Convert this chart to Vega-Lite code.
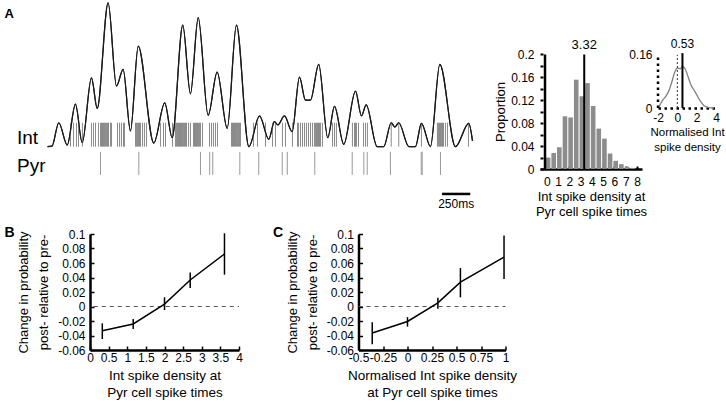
{
  "$schema": "https://vega.github.io/schema/vega-lite/v6.json",
  "padding": {"left": 4, "top": 0, "right": 4, "bottom": 2},
  "config": {
    "font": "Liberation Sans",
    "view": {"stroke": null},
    "axis": {"grid": false, "labelColor": "#000", "titleColor": "#000", "titleFontWeight": "normal", "domainColor": "#000", "tickColor": "#000", "labelOverlap": false, "tickCount": 100},
    "title": {"color": "#000", "fontWeight": "bold"}
  },
  "datasets": {
    "int": [{"t":204},{"t":231},{"t":257},{"t":275},{"t":310},{"t":390},{"t":408},{"t":426},{"t":452},{"t":470},{"t":479},{"t":488},{"t":497},{"t":506},{"t":514},{"t":523},{"t":532},{"t":541},{"t":559},{"t":568},{"t":621},{"t":639},{"t":656},{"t":674},{"t":683},{"t":781},{"t":789},{"t":798},{"t":807},{"t":816},{"t":825},{"t":843},{"t":860},{"t":878},{"t":1002},{"t":1029},{"t":1047},{"t":1109},{"t":1135},{"t":1144},{"t":1153},{"t":1162},{"t":1171},{"t":1180},{"t":1189},{"t":1197},{"t":1206},{"t":1215},{"t":1224},{"t":1233},{"t":1251},{"t":1268},{"t":1295},{"t":1304},{"t":1313},{"t":1322},{"t":1331},{"t":1339},{"t":1348},{"t":1357},{"t":1375},{"t":1437},{"t":1455},{"t":1472},{"t":1490},{"t":1508},{"t":1632},{"t":1641},{"t":1650},{"t":1659},{"t":1668},{"t":1676},{"t":1685},{"t":1694},{"t":1703},{"t":1712},{"t":1827},{"t":1863},{"t":1934},{"t":1996},{"t":2022},{"t":2084},{"t":2111},{"t":2173},{"t":2218},{"t":2226},{"t":2244},{"t":2262},{"t":2280},{"t":2297},{"t":2315},{"t":2333},{"t":2351},{"t":2368},{"t":2377},{"t":2386},{"t":2395},{"t":2404},{"t":2413},{"t":2422},{"t":2439},{"t":2528},{"t":2546},{"t":2563},{"t":2705},{"t":2723},{"t":2732},{"t":2741},{"t":2759},{"t":2803},{"t":2821},{"t":2838},{"t":3049},{"t":3116},{"t":3317},{"t":3459},{"t":3468},{"t":3477},{"t":3486},{"t":3495},{"t":3504},{"t":3513},{"t":3530},{"t":3548},{"t":3734}],
    "pyr": [{"t":470},{"t":810},{"t":1357},{"t":1439},{"t":1466},{"t":1706},{"t":1874},{"t":2082},{"t":2127},{"t":2371},{"t":2703},{"t":2806},{"t":2836},{"t":3042},{"t":3315},{"t":3324},{"t":3486}],
    "density": [{"t":0,"d":0},{"t":40,"d":0.03},{"t":100,"d":1.33},{"t":175,"d":0.09},{"t":248,"d":2.36},{"t":308,"d":0.22},{"t":390,"d":3.83},{"t":441,"d":2.13},{"t":538,"d":8.0},{"t":612,"d":3.37},{"t":671,"d":4.3},{"t":736,"d":0.87},{"t":805,"d":5.59},{"t":943,"d":0.2},{"t":1040,"d":2.44},{"t":1106,"d":0.5},{"t":1200,"d":6.76},{"t":1268,"d":2.94},{"t":1337,"d":7.17},{"t":1425,"d":1.74},{"t":1505,"d":4.15},{"t":1594,"d":1.02},{"t":1676,"d":6.76},{"t":1786,"d":0.0},{"t":1881,"d":1.71},{"t":1963,"d":0.41},{"t":2013,"d":1.39},{"t":2043,"d":1.21},{"t":2102,"d":1.71},{"t":2170,"d":0.83},{"t":2235,"d":3.87},{"t":2288,"d":2.59},{"t":2333,"d":2.59},{"t":2406,"d":4.58},{"t":2486,"d":0.5},{"t":2546,"d":2.24},{"t":2628,"d":0.13},{"t":2732,"d":3.09},{"t":2785,"d":1.71},{"t":2827,"d":2.32},{"t":2924,"d":0},{"t":2983,"d":0},{"t":3049,"d":1.33},{"t":3081,"d":1.09},{"t":3116,"d":1.33},{"t":3205,"d":0},{"t":3264,"d":0},{"t":3317,"d":1.3},{"t":3397,"d":0},{"t":3480,"d":4.58},{"t":3619,"d":0},{"t":3737,"d":1.3},{"t":3770,"d":0.32}],
    "hist": [{"bin":0,"p":0.02},{"bin":0.5,"p":0.028},{"bin":1,"p":0.038},{"bin":1.5,"p":0.092},{"bin":2,"p":0.09},{"bin":2.5,"p":0.156},{"bin":3,"p":0.127},{"bin":3.5,"p":0.15},{"bin":4,"p":0.11},{"bin":4.5,"p":0.0705},{"bin":5,"p":0.053},{"bin":5.5,"p":0.027},{"bin":6,"p":0.0143},{"bin":6.5,"p":0.0085},{"bin":7,"p":0.004},{"bin":7.5,"p":0.002}],
    "norm": [{"x":-1.9,"p":0.003},{"x":-1.6,"p":0.02},{"x":-1.2,"p":0.035},{"x":-0.9,"p":0.05},{"x":-0.6,"p":0.075},{"x":-0.3,"p":0.105},{"x":0,"p":0.12},{"x":0.3,"p":0.118},{"x":0.55,"p":0.125},{"x":0.8,"p":0.118},{"x":1.1,"p":0.095},{"x":1.4,"p":0.07},{"x":1.7,"p":0.055},{"x":2.0,"p":0.04},{"x":2.4,"p":0.02},{"x":2.8,"p":0.006},{"x":3.2,"p":0.002},{"x":3.8,"p":0}],
    "b": [{"x":0.33,"y":-0.0334,"lo":-0.0448,"hi":-0.0232},{"x":1.16,"y":-0.0241,"lo":-0.031,"hi":-0.0172},{"x":2.0,"y":0.0034,"lo":-0.0048,"hi":0.0127},{"x":2.69,"y":0.0366,"lo":0.0255,"hi":0.047},{"x":3.61,"y":0.0724,"lo":0.0439,"hi":0.101}],
    "c": [{"x":-0.36,"y":-0.0366,"lo":-0.052,"hi":-0.0217},{"x":0.0,"y":-0.0207,"lo":-0.0277,"hi":-0.0147},{"x":0.31,"y":0.005,"lo":-0.003,"hi":0.012},{"x":0.54,"y":0.0336,"lo":0.0126,"hi":0.053},{"x":0.985,"y":0.068,"lo":0.038,"hi":0.098}],
    "one": [{}]
  },
  "spacing": 8,
  "vconcat": [
    {
      "spacing": -21,
      "hconcat": [
        {
          "width": 382.5, "height": 205,
          "title": {"text": "A", "anchor": "start", "frame": "group", "dx": -85.5, "dy": 21, "offset": 0, "fontSize": 13},
          "layer": [
            {"data": {"name": "density"}, "mark": {"type": "line", "color": "#1a1a1a", "strokeWidth": 1.2, "interpolate": "monotone"},
             "encoding": {"x": {"field": "t", "type": "quantitative", "scale": {"domain": [0, 3770], "range": [-42.5, 382.5], "nice": false},
                                "axis": {"domain": false, "ticks": false, "labels": false, "title": null}},
                          "y": {"field": "d", "type": "quantitative", "scale": {"domain": [-3.3, 8.1], "nice": false},
                                "axis": {"values": [0.5, -1.05], "labelExpr": "datum.value > 0 ? 'Int' : 'Pyr'", "domain": false, "ticks": false, "title": null, "labelFontSize": 19, "labelAlign": "left", "labelBaseline": "middle", "labelPadding": 73.5}}}},
            {"data": {"name": "int"}, "mark": {"type": "rule", "color": "#8a8a8a", "strokeWidth": 1},
             "encoding": {"x": {"field": "t", "type": "quantitative"}, "y": {"datum": 0}, "y2": {"datum": 1.33}}},
            {"data": {"name": "pyr"}, "mark": {"type": "rule", "color": "#999999", "strokeWidth": 1},
             "encoding": {"x": {"field": "t", "type": "quantitative"}, "y": {"datum": -0.29}, "y2": {"datum": -1.57}}},
            {"data": {"name": "density"}, "mark": {"type": "line", "color": "#1a1a1a", "strokeWidth": 1.2, "interpolate": "monotone"},
             "encoding": {"x": {"field": "t", "type": "quantitative"}, "y": {"field": "d", "type": "quantitative"}}},
            {"data": {"name": "one"}, "mark": {"type": "rule", "color": "#000", "strokeWidth": 2.5},
             "encoding": {"x": {"datum": 3500}, "x2": {"datum": 3750}, "y": {"datum": -2.63}}},
            {"data": {"name": "one"}, "mark": {"type": "text", "fontSize": 12, "text": "250ms", "baseline": "middle"},
             "encoding": {"x": {"datum": 3625}, "y": {"datum": -3.2}}}
          ]
        },
        {
          "bounds": "flush",
          "spacing": 16,
          "hconcat": [
            {
              "width": 102, "height": 168,
              "layer": [
                {"data": {"name": "hist"}, "mark": {"type": "bar", "size": 4.6, "color": "#8c8c8c", "xOffset": 1.25},
                 "encoding": {
                   "x": {"field": "bin", "type": "quantitative", "scale": {"domain": [-0.16, 8], "nice": false, "zero": false},
                         "axis": {"values": [0,1,2,3,4,5,6,7,8], "tickCount": 100, "format": "d", "tickSize": -3, "tickWidth": 2, "domainWidth": 2.5, "labelFontSize": 12, "labelPadding": 10, "labelFlush": false, "labelOverlap": false,
                                  "title": ["Int spike density at", "Pyr cell spike times"], "titleFontSize": 13, "titleLineHeight": 15, "titlePadding": 3}},
                   "y": {"field": "p", "type": "quantitative", "scale": {"domain": [0, 0.2934], "nice": false},
                         "axis": {"values": [0,0.02,0.04,0.06,0.08,0.1,0.12,0.14,0.16,0.18,0.2], "tickCount": 100, "format": ".2~f", "labelExpr": "round(datum.value*100) % 4 == 0 ? datum.label : ''", "domain": false, "tickSize": -3, "tickWidth": 2, "labelFontSize": 12, "labelPadding": 9, "labelOverlap": false,
                                  "title": "Proportion", "titleFontSize": 13, "titleX": -40, "titleY": 110.5, "titleBaseline": "middle"}}}},
                {"data": {"name": "one"}, "mark": {"type": "rule", "color": "#000", "strokeWidth": 2.5},
                 "encoding": {"x": {"datum": -0.16}, "y": {"datum": 0}, "y2": {"datum": 0.2}}},
                {"data": {"values": [{"mean": 3.32}]}, "mark": {"type": "rule", "color": "#000", "strokeWidth": 2},
                 "encoding": {"x": {"field": "mean", "type": "quantitative"}, "y": {"datum": 0}, "y2": {"datum": 0.2}}},
                {"data": {"values": [{"mean": 3.32}]}, "mark": {"type": "text", "fontSize": 13, "baseline": "middle", "dy": -9},
                 "encoding": {"x": {"field": "mean", "type": "quantitative"}, "y": {"datum": 0.2}, "text": {"field": "mean", "type": "quantitative", "format": ".2f"}}}
              ]
            },
            {
              "width": 58, "height": 107,
              "layer": [
                {"data": {"name": "norm"}, "mark": {"type": "line", "color": "#808080", "strokeWidth": 1.3, "interpolate": "monotone"},
                 "encoding": {
                   "x": {"field": "x", "type": "quantitative", "scale": {"domain": [-2, 4], "nice": false},
                         "axis": {"values": [-2, 0, 2, 4], "tickCount": 100, "format": "~g", "labelExpr": "replace(datum.label, '\u2212', '-')", "ticks": false, "domainDash": [2.5, 3.5], "domainWidth": 2.5, "labelFontSize": 12, "labelPadding": 4, "labelFlush": false, "labelOverlap": false,
                                  "title": ["Normalised Int", "spike density"], "titleFontSize": 11.5, "titleLineHeight": 15, "titlePadding": 3}},
                   "y": {"field": "p", "type": "quantitative", "scale": {"domain": [0, 0.3218], "nice": false},
                         "axis": {"values": [0, 0.16], "tickCount": 100, "format": "~g", "ticks": false, "domain": false, "labelFontSize": 12, "labelPadding": 6, "labelOverlap": false, "title": null}}}},
                {"data": {"name": "one"}, "mark": {"type": "rule", "color": "#000", "strokeWidth": 2.5, "strokeDash": [2.5, 3.5]},
                 "encoding": {"x": {"datum": -2}, "y": {"datum": 0}, "y2": {"datum": 0.16}}},
                {"data": {"name": "one"}, "mark": {"type": "rule", "color": "#333", "strokeWidth": 1, "strokeDash": [2, 2]},
                 "encoding": {"x": {"datum": 0}, "y": {"datum": 0}, "y2": {"datum": 0.16}}},
                {"data": {"values": [{"mean": 0.53}]}, "mark": {"type": "rule", "color": "#000", "strokeWidth": 2},
                 "encoding": {"x": {"field": "mean", "type": "quantitative"}, "y": {"datum": 0}, "y2": {"datum": 0.165}}},
                {"data": {"values": [{"mean": 0.53}]}, "mark": {"type": "text", "fontSize": 12, "baseline": "middle", "dy": -10.5},
                 "encoding": {"x": {"field": "mean", "type": "quantitative"}, "y": {"datum": 0.16}, "text": {"field": "mean", "type": "quantitative", "format": ".2f"}}}
              ]
            }
          ]
        }
      ]
    },
    {
      "bounds": "flush",
      "spacing": 119.5,
      "hconcat": [
        {
          "width": 149, "height": 116,
          "title": {"text": "B", "anchor": "start", "frame": "group", "dx": -85.5, "dy": 12, "offset": 0, "fontSize": 14},
          "layer": [
            {"data": {"name": "b"}, "mark": {"type": "rule", "color": "#000", "strokeWidth": 1.5},
             "encoding": {
               "x": {"field": "x", "type": "quantitative", "scale": {"domain": [0, 4], "nice": false},
                     "axis": {"values": [0,0.5,1,1.5,2,2.5,3,3.5,4], "tickCount": 100, "format": "~g", "tickSize": -4, "tickWidth": 1.5, "domainWidth": 2.5, "labelFontSize": 12, "labelPadding": 6, "labelFlush": false, "labelOverlap": false,
                              "title": ["Int spike density at", "Pyr cell spike times"], "titleFontSize": 13.5, "titleLineHeight": 17, "titlePadding": 5}},
               "y": {"field": "lo", "type": "quantitative", "scale": {"domain": [-0.06, 0.1], "nice": false},
                     "axis": {"values": [-0.06,-0.04,-0.02,0,0.02,0.04,0.06,0.08,0.1], "tickCount": 100, "format": ".2~f", "labelExpr": "replace(datum.label, '\u2212', '-')", "tickSize": -4, "tickWidth": 1.5, "domainWidth": 2.5, "labelFontSize": 12, "labelPadding": 9, "labelOverlap": false,
                              "title": ["Change in probability", "post- relative to pre-"], "titleFontSize": 13, "titleLineHeight": 20, "titleX": -66.5, "titleBaseline": "middle"}},
               "y2": {"field": "hi"}}},
            {"data": {"name": "one"}, "mark": {"type": "rule", "color": "#555", "strokeWidth": 1, "strokeDash": [4, 4]},
             "encoding": {"x": {"datum": 0.1}, "x2": {"datum": 4}, "y": {"datum": 0}}},
            {"data": {"name": "b"}, "mark": {"type": "line", "color": "#000", "strokeWidth": 1.5},
             "encoding": {"x": {"field": "x", "type": "quantitative"}, "y": {"field": "y", "type": "quantitative"}}}
          ]
        },
        {
          "width": 147, "height": 116,
          "title": {"text": "C", "anchor": "start", "frame": "group", "dx": -85.5, "dy": 12, "offset": 0, "fontSize": 14},
          "layer": [
            {"data": {"name": "c"}, "mark": {"type": "rule", "color": "#000", "strokeWidth": 1.5},
             "encoding": {
               "x": {"field": "x", "type": "quantitative", "scale": {"domain": [-0.5, 1], "nice": false},
                     "axis": {"values": [-0.5,-0.25,0,0.25,0.5,0.75,1], "tickCount": 100, "format": "~g", "labelExpr": "replace(datum.label, '\u2212', '-')", "tickSize": -4, "tickWidth": 1.5, "domainWidth": 2.5, "labelFontSize": 12, "labelPadding": 6, "labelFlush": false, "labelOverlap": false,
                              "title": ["Normalised Int spike density", "at Pyr cell spike times"], "titleFontSize": 13.5, "titleLineHeight": 17, "titlePadding": 5}},
               "y": {"field": "lo", "type": "quantitative", "scale": {"domain": [-0.06, 0.1], "nice": false},
                     "axis": {"values": [-0.06,-0.04,-0.02,0,0.02,0.04,0.06,0.08,0.1], "tickCount": 100, "format": ".2~f", "labelExpr": "replace(datum.label, '\u2212', '-')", "tickSize": -4, "tickWidth": 1.5, "domainWidth": 2.5, "labelFontSize": 12, "labelPadding": 9, "labelOverlap": false,
                              "title": ["Change in probability", "post- relative to pre-"], "titleFontSize": 13, "titleLineHeight": 20, "titleX": -66.5, "titleBaseline": "middle"}},
               "y2": {"field": "hi"}}},
            {"data": {"name": "one"}, "mark": {"type": "rule", "color": "#555", "strokeWidth": 1, "strokeDash": [4, 4]},
             "encoding": {"x": {"datum": -0.5}, "x2": {"datum": 1}, "y": {"datum": 0}}},
            {"data": {"name": "c"}, "mark": {"type": "line", "color": "#000", "strokeWidth": 1.5},
             "encoding": {"x": {"field": "x", "type": "quantitative"}, "y": {"field": "y", "type": "quantitative"}}}
          ]
        }
      ]
    }
  ]
}
